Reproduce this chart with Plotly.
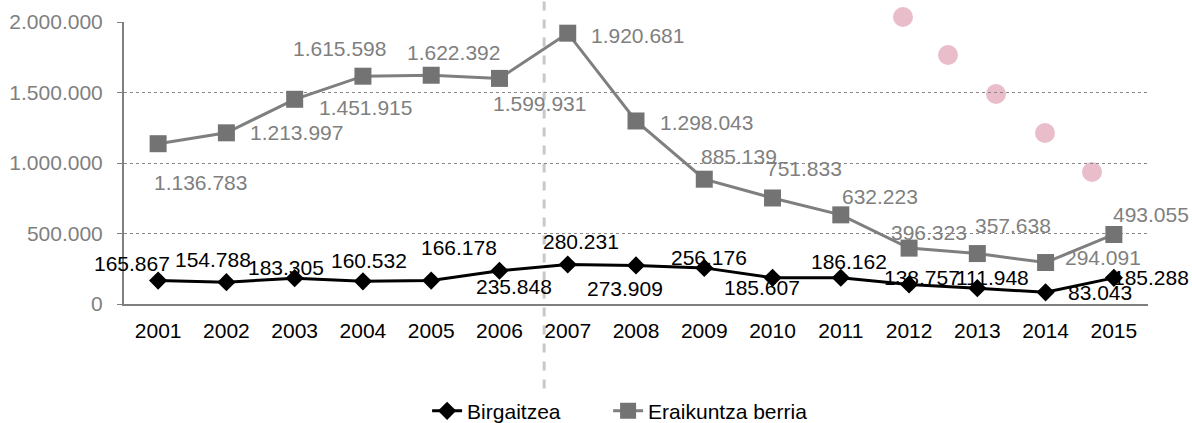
import plotly.graph_objects as go

years = [2001, 2002, 2003, 2004, 2005, 2006, 2007, 2008,
         2009, 2010, 2011, 2012, 2013, 2014, 2015]

birgaitzea = [165867, 154788, 183305, 160532, 166178, 235848, 280231, 273909,
              256176, 185607, 186162, 138757, 111948, 83043, 185288]

eraikuntza = [1136783, 1213997, 1451915, 1615598, 1622392, 1599931, 1920681, 1298043,
              885139, 751833, 632223, 396323, 357638, 294091, 493055]

# label offsets in pixels (dx, dy up)
birg_off = [(-26, 17), (-13, 23), (-9, 11), (6, 21), (28, 33), (15, -16), (13, 23), (-11, -23),
            (5, 10), (-11, -10), (8, 16), (13, 7), (15, 11), (54, 0), (37, 0)]
erai_off = [(42, -39), (70, 0), (71, -8), (-23, 28), (22, 23), (40, -25), (70, -2), (70, -2),
            (35, 23), (31, 29), (39, 18), (20, 16), (36, 28), (57, 5), (37, 20)]

FONT = "Liberation Sans, Arial, sans-serif"
GRAY = "#7f7f7f"
FS = 21


def fmt(v):
    return f"{v:,}".replace(",", ".")


fig = go.Figure()

fig.add_trace(go.Scatter(
    x=years, y=birgaitzea, name="Birgaitzea", mode="lines+markers",
    line=dict(color="black", width=3), legendwidth=136,
    marker=dict(symbol="diamond", size=14, color="black")
))

fig.add_trace(go.Scatter(
    x=years, y=eraikuntza, name="Eraikuntza berria", mode="lines+markers",
    line=dict(color=GRAY, width=3), legendwidth=170,
    marker=dict(symbol="square", size=17, color="#737373")
))

annotations = []
for yr, v, (dx, dy) in zip(years, birgaitzea, birg_off):
    annotations.append(dict(
        x=yr, y=v, text=fmt(v), showarrow=False, xshift=dx, yshift=dy,
        font=dict(family=FONT, size=FS, color="black")
    ))
for yr, v, (dx, dy) in zip(years, eraikuntza, erai_off):
    annotations.append(dict(
        x=yr, y=v, text=fmt(v), showarrow=False, xshift=dx, yshift=dy,
        font=dict(family=FONT, size=FS, color=GRAY)
    ))

# faint background decoration
shapes = [dict(
    type="line", xref="paper", yref="paper", x0=0.4103, x1=0.4103, y0=-0.30, y1=1.08,
    line=dict(color="#c8c8c8", width=3, dash="dash"), layer="below"
)]
pink_dots = [(903, 17), (948, 55), (996, 94), (1045, 133), (1092, 172)]
for px, py in pink_dots:
    cx = (px - 124) / 1024
    cy = (304 - py) / 282
    shapes.append(dict(
        type="circle", xref="paper", yref="paper",
        x0=cx - 10 / 1024, x1=cx + 10 / 1024, y0=cy - 10 / 282, y1=cy + 10 / 282,
        fillcolor="#e3aebd", line=dict(width=0), layer="below", opacity=0.8
    ))

fig.update_layout(
    width=1192, height=423,
    margin=dict(l=124, r=44, t=22, b=119, autoexpand=False),
    paper_bgcolor="white", plot_bgcolor="rgba(0,0,0,0)",
    separators=",.",
    font=dict(family=FONT, size=FS, color="black"),
    showlegend=True,
    legend=dict(
        orientation="h", x=0.296, xanchor="left", y=-0.38, yanchor="middle",
        font=dict(family=FONT, size=FS, color="black"), bgcolor="rgba(0,0,0,0)"
    ),
    annotations=annotations,
    shapes=shapes,
)

fig.update_xaxes(
    range=[2000.5, 2015.5], tickvals=years, ticktext=[str(y) for y in years],
    showline=True, linecolor=GRAY, linewidth=2, automargin=False,
    showgrid=False, ticks="", ticklabelstandoff=7,
    tickfont=dict(color="black", size=FS)
)

fig.update_yaxes(
    range=[0, 2000000], dtick=500000, tickformat=",d",
    showline=True, linecolor=GRAY, linewidth=2, automargin=False,
    ticks="outside", ticklen=5, tickcolor=GRAY, ticklabelstandoff=10,
    showgrid=True, gridcolor="#888888", griddash="dot", gridwidth=1,
    zeroline=False, tickfont=dict(color=GRAY, size=FS)
)

fig.write_html("out.html", config={"displayModeBar": False},
               post_script="document.body.style.margin='0';")
